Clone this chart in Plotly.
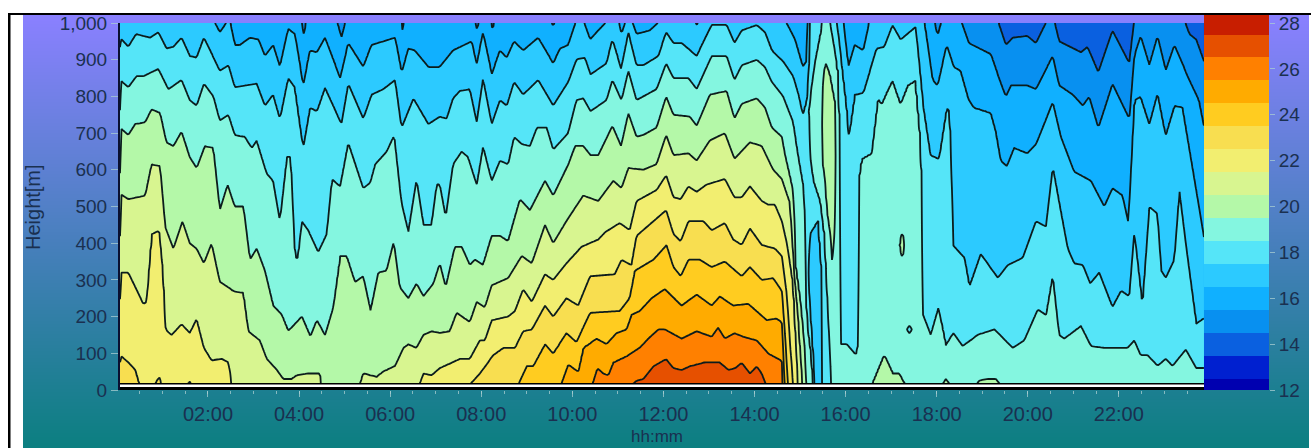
import numpy as np
import plotly.graph_objects as go

W, H = 1311, 448

# ---------- values ----------
# Each isotherm is (hour of day, height in metres); heights beyond 1000 m or near 0 m mean "leaves the plot".
ISO_14_5_A = [(19.34,1010),(19.52,940),(19.67,960),(19.99,965),(20.18,945),(20.43,1010)]
ISO_14_5_B = [(20.58,1010),(20.69,950),(21.17,920),(21.31,935),(21.55,865),(21.86,980),(22.23,890),(22.34,1010)]
ISO_14_5_C = [(23.44,1010),(23.55,970),(23.70,955),(23.87,895)]

ISO_15_5_A = [(4.05,1010),(4.11,965),(4.16,1010)]
ISO_15_5_B = [(4.83,1010),(4.93,960),(5.03,1010)]
ISO_15_5_C = [(6.24,1010),(6.27,980),(6.31,1010)]
ISO_15_5_D = [(7.86,1010),(7.91,980),(7.96,1010)]
ISO_15_5_E = [(8.21,1010),(8.25,975),(8.29,1010)]
ISO_15_5_F = [(9.53,1010),(9.58,990),(9.63,1010)]
ISO_15_5_G = [(17.95,1010),(18.02,965),(18.11,1010)]
ISO_15_5_H = [(18.53,1010),(18.71,945),(19.19,915),(19.34,860),(19.52,800),(19.63,830),(19.99,830),(20.18,820),(20.55,910),
              (20.69,830),(20.99,805),(21.21,775),(21.35,800),(21.55,715),(21.86,835),(22.23,740),(22.34,910),(22.48,965),
              (22.67,885),(22.85,965),(23.03,870),(23.22,940),(23.51,855),(23.76,790),(23.87,720)]

ISO_16_5_A = [(2.12,1010),(2.26,975),(2.45,1010)]
ISO_16_5_B = [(2.48,1010),(2.59,940),(2.70,940),(2.92,960),(3.11,955),(3.25,910),(3.43,940),(3.58,880),(3.76,985),(3.91,970),
              (4.09,830),(4.24,925),(4.39,920),(4.57,960),(4.90,850),(5.08,945),(5.41,880),(5.59,940),(6.11,960),(6.25,865),
              (6.40,930),(6.54,925),(6.84,880),(7.09,880),(7.38,925),(7.79,950),(7.90,890),(8.04,975),(8.23,860),(8.41,925),
              (8.56,905),(8.72,950),(8.92,925),(9.25,960),(9.58,890),(9.73,930),(9.91,940),(10.09,1010)]
ISO_16_5_C = [(10.24,1010),(10.39,955),(10.57,980),(10.79,1010)]
ISO_16_5_D = [(11.01,1010),(11.08,970),(11.18,1010)]
ISO_16_5_E = [(11.30,1010),(11.41,970),(11.70,980),(11.96,1010)]
ISO_16_5_F = [(12.66,1010),(12.73,995),(12.80,1010)]
ISO_16_5_G = [(14.41,1010),(14.71,1000),(14.89,955),(15.06,880),(15.14,895),(15.17,1010)]
ISO_16_5_H = [(15.95,1010),(16.06,880),(16.20,940),(16.39,925),(16.53,1010)]
ISO_16_5_I = [(17.73,1010),(17.91,845),(18.02,830),(18.22,940),(18.38,880),(18.53,870),(18.71,790),(18.82,770),(19.19,755),
              (19.30,705),(19.41,625),(19.54,610),(19.70,660),(19.99,645),(20.18,670),(20.55,785),(20.73,690),(21.02,595),
              (21.39,570),(21.68,500),(21.86,550),(22.08,530),(22.21,455),(22.34,790),(22.48,800),(22.67,725),(22.85,810),
              (23.03,695),(23.22,775),(23.40,770),(23.58,635),(23.76,500),(23.87,415)]

ISO_17_5_A = [(0.07,960),(0.25,935),(0.42,970),(0.73,960),(0.91,975),(1.09,930),(1.24,935),(1.42,960),(1.60,910),(1.75,905),
              (1.91,960),(2.26,870),(2.45,885),(2.59,825),(3.07,835),(3.25,775),(3.43,805),(3.58,740),(3.76,850),(3.91,825),
              (4.09,660),(4.24,770),(4.39,760),(4.57,825),(4.93,725),(5.08,835),(5.41,740),(5.59,805),(5.85,820),(6.11,845),
              (6.25,715),(6.51,795),(6.84,725),(7.09,745),(7.24,740),(7.38,795),(7.53,815),(7.75,820),(7.90,730),(8.04,850),
              (8.23,725),(8.41,790),(8.56,775),(8.72,840),(8.92,805),(9.25,845),(9.58,775),(9.91,840),(10.09,900),(10.28,905),
              (10.40,860),(10.75,890),(10.88,955),(11.07,875),(11.23,975),(11.41,885),(11.56,885),(11.89,910),(12.06,975),
              (12.22,945),(12.40,945),(12.73,910),(13.06,995),(13.39,995),(13.56,945),(13.72,980),(14.05,995),(14.23,975),
              (14.38,925),(14.63,895),(14.85,855),(14.98,800),(15.06,750),(15.14,790),(15.20,880),(15.22,1010)]
ISO_17_5_B = [(15.80,1010),(15.98,825),(16.06,730),(16.07,690),(16.20,805),(16.39,810),(16.68,930),(16.85,935),(17.03,995),
              (17.21,955),(17.54,990),(17.69,790),(17.87,640),(18.05,630),(18.22,770),(18.29,760),(18.34,525),(18.35,395),
              (18.61,360),(18.72,280),(18.97,370),(19.34,305),(19.56,340),(19.89,360),(20.18,460),(20.40,445),(20.55,610),
              (20.88,385),(21.02,345),(21.21,340),(21.37,290),(21.57,320),(21.86,225),(22.05,270),(22.23,255),(22.34,430),
              (22.52,225),(22.67,500),(22.85,480),(22.93,325),(23.03,305),(23.22,355),(23.33,545),(23.48,390),(23.70,180),(23.87,195)]
ISO_17_5_POOL_TOP = [(15.18,315),(15.22,425),(15.40,465),(15.47,335),(15.49,150),(15.50,5)]
ISO_17_5_POOL_LOW = [(15.18,315),(15.25,150),(15.33,5)]

ISO_18_5_A = [(0.07,845),(0.25,825),(0.43,855),(0.58,855),(0.91,875),(1.13,820),(1.42,845),(1.60,790),(1.75,775),(1.91,835),
              (2.12,800),(2.26,735),(2.45,750),(2.59,695),(2.81,690),(2.96,660),(3.07,680),(3.29,590),(3.43,570),(3.58,460),
              (3.73,635),(3.82,635),(3.91,360),(3.98,360),(4.06,460),(4.20,435),(4.42,375),(4.61,425),(4.72,575),(4.90,555),
              (5.08,675),(5.41,550),(5.56,565),(5.67,615),(5.92,650),(6.09,695),(6.25,510),(6.40,430),(6.58,575),(6.73,450),
              (6.91,450),(7.02,560),(7.09,560),(7.22,470),(7.38,615),(7.57,650),(7.71,635),(7.90,560),(8.04,665),(8.23,570),
              (8.41,625),(8.59,615),(8.72,690),(8.89,670),(9.07,665),(9.22,715),(9.44,715),(9.58,655),(9.91,700),(10.09,790),
              (10.24,795),(10.40,760),(10.75,790),(10.88,845),(11.08,790),(11.23,870),(11.41,790),(11.85,820),(12.06,890),
              (12.22,850),(12.55,850),(12.73,820),(13.06,910),(13.39,910),(13.56,845),(13.72,885),(14.05,900),(14.23,880),
              (14.38,840),(14.63,800),(14.85,730),(14.96,640),(15.07,560),(15.11,470),(15.12,290),(15.14,200),(15.25,95),(15.29,5)]
ISO_18_5_TONGUE_LOW = [(15.20,765),(15.21,650),(15.29,570),(15.43,515),(15.54,425),(15.62,200),(15.69,5)]
ISO_18_5_TONGUE_TOP = [(15.20,765),(15.25,820),(15.33,895),(15.50,1010)]
ISO_18_5_B = [(15.65,1010),(15.76,925),(15.85,860),(15.87,740),(15.88,495),(15.89,125),(16.02,125),(16.23,95),(16.28,125),
              (16.285,360),(16.29,575),(16.35,630),(16.57,645),(16.71,795),(16.79,780),(17.03,845),(17.21,780),(17.36,830),
              (17.54,845),(17.65,680),(17.69,500),(17.70,205),(17.87,150),(18.04,225),(18.20,120),(18.37,155),(18.57,120),
              (18.90,150),(19.27,165),(19.67,115),(19.92,135),(20.22,220),(20.40,205),(20.55,315),(20.69,150),(20.80,140),
              (21.17,175),(21.39,120),(21.68,115),(22.19,115),(22.34,135),(22.48,95),(22.63,95),(22.85,65),(23.03,85),
              (23.18,65),(23.47,110),(23.70,60),(23.87,60)]
ISO_18_5_RING_TOP = [(17.35,165),(17.40,175),(17.45,165)]
ISO_18_5_RING_LOW = [(17.35,165),(17.40,155),(17.45,165)]

ISO_19_5_A = [(0.07,715),(0.25,695),(0.40,725),(0.62,730),(0.76,765),(0.95,755),(1.09,675),(1.24,665),(1.42,705),(1.60,635),
              (1.75,605),(1.93,665),(2.12,660),(2.26,490),(2.43,560),(2.59,500),(2.78,500),(2.92,355),(3.07,385),(3.25,325),
              (3.43,230),(3.62,205),(3.76,160),(4.06,200),(4.25,145),(4.39,190),(4.57,150),(4.75,225),(4.90,365),(5.05,365),
              (5.23,295),(5.41,310),(5.57,215),(5.74,320),(5.92,325),(6.08,405),(6.21,280),(6.40,250),(6.58,290),(6.73,255),
              (6.95,290),(7.09,345),(7.22,280),(7.42,390),(7.57,390),(7.75,340),(7.86,355),(8.04,340),(8.23,420),(8.41,420),
              (8.59,405),(8.85,520),(9.07,490),(9.40,570),(9.58,530),(9.91,615),(10.06,665),(10.24,665),(10.40,640),(10.57,640),
              (10.88,720),(11.07,665),(11.23,755),(11.41,690),(11.56,695),(11.85,715),(12.06,800),(12.22,750),(12.58,745),
              (12.73,720),(13.02,805),(13.39,815),(13.56,740),(13.72,780),(14.05,795),(14.23,770),(14.38,715),(14.60,690),
              (14.67,640),(14.85,540),(14.89,425),(14.90,335),(15.00,245),(15.11,105),(15.14,5)]
ISO_19_5_LOOP_TOP = [(15.47,785),(15.55,895),(15.66,860),(15.77,785),(15.80,705)]
ISO_19_5_LOOP_LOW = [(15.47,785),(15.48,630),(15.55,570),(15.58,495),(15.69,400),(15.71,320),(15.77,495),(15.80,705)]
ISO_19_5_B = [(16.56,5),(16.85,95),(17.03,45),(17.18,45),(17.33,5)]
ISO_19_5_C = [(18.09,5),(18.20,30),(18.35,5)]
ISO_19_5_D = [(18.82,5),(18.93,25),(19.12,30),(19.30,30),(19.45,5)]
ISO_19_5_SLIT_TOP = [(17.20,395),(17.25,435),(17.29,395)]
ISO_19_5_SLIT_LOW = [(17.20,395),(17.25,355),(17.29,395)]

ISO_20_5_A = [(0.07,535),(0.25,520),(0.62,530),(0.76,615),(0.95,610),(1.06,445),(1.24,385),(1.44,460),(1.60,400),(1.75,385),
              (1.91,345),(2.08,400),(2.26,295),(2.56,270),(2.78,265),(2.89,160),(3.14,135),(3.29,85),(3.51,55),(3.65,30),
              (3.84,30),(3.95,40),(4.20,45),(4.46,45),(4.50,5)]
ISO_20_5_B = [(5.32,5),(5.41,45),(5.70,35),(5.85,50),(6.11,65),(6.29,115),(6.40,125),(6.58,115),(6.73,150),(6.91,160),(7.09,155),
              (7.31,160),(7.46,210),(7.75,185),(7.90,240),(8.08,225),(8.23,285),(8.59,305),(8.89,365),(9.11,345),(9.40,450),
              (9.58,400),(9.87,460),(10.24,530),(10.57,515),(10.90,570),(11.08,550),(11.23,605),(11.56,600),(11.85,615),
              (12.06,695),(12.22,640),(12.55,645),(12.73,625),(13.02,680),(13.35,700),(13.56,630),(13.90,675),(14.16,665),
              (14.41,600),(14.60,575),(14.78,510),(14.86,335),(14.96,200),(15.06,5)]

ISO_21_5_A = [(0.07,320),(0.25,320),(0.58,235),(0.65,240),(0.76,425),(0.93,435),(1.02,315),(1.07,165),(1.20,150),(1.42,180),
              (1.60,155),(1.75,195),(1.91,115),(2.08,80),(2.30,85),(2.45,75),(2.53,5)]
ISO_21_5_B = [(6.62,5),(6.73,45),(6.91,40),(7.09,60),(7.53,85),(7.75,85),(7.97,135),(8.08,135),(8.23,190),(8.59,200),(8.74,215),
              (8.92,275),(9.11,240),(9.40,315),(9.58,300),(9.87,345),(10.20,390),(10.57,410),(10.72,430),(11.04,455),(11.26,435),
              (11.41,515),(11.85,545),(12.06,585),(12.22,525),(12.38,520),(12.55,555),(12.73,540),(12.95,560),(13.35,575),
              (13.56,525),(13.72,525),(13.90,555),(14.16,515),(14.30,505),(14.45,505),(14.60,460),(14.71,400),(14.85,290),(14.96,5)]

ISO_22_5_A = [(0.07,95),(0.25,75),(0.40,55),(0.51,5)]
ISO_22_5_B = [(0.80,5),(0.93,35),(0.98,5)]
ISO_22_5_C = [(1.53,5),(1.59,25),(1.66,5)]
ISO_22_5_D = [(7.68,5),(7.97,45),(8.26,95),(8.48,115),(8.74,115),(8.92,160),(9.11,165),(9.40,230),(9.58,200),(9.87,250),(10.13,230),
              (10.39,310),(10.93,315),(11.08,355),(11.30,340),(11.41,420),(11.78,460),(12.06,490),(12.22,425),(12.38,405),
              (12.55,460),(12.88,460),(13.06,435),(13.35,455),(13.53,410),(13.72,395),(13.90,440),(14.16,395),(14.45,385),
              (14.60,365),(14.71,260),(14.85,5)]

ISO_23_5 = [(8.78,5),(9.00,65),(9.14,65),(9.40,125),(9.58,100),(9.87,155),(10.09,130),(10.39,210),(11.04,215),(11.26,250),
            (11.37,325),(11.78,355),(12.07,395),(12.22,335),(12.38,310),(12.55,355),(12.80,355),(13.06,335),(13.35,350),
            (13.72,310),(13.90,335),(14.16,300),(14.41,305),(14.60,270),(14.67,150),(14.74,5)]
ISO_24_5 = [(9.73,5),(9.91,70),(10.13,50),(10.24,115),(10.53,140),(10.75,125),(10.97,155),(11.19,165),(11.30,205),(11.48,215),
            (11.74,250),(12.03,275),(12.40,230),(12.73,260),(13.06,230),(13.24,255),(13.53,230),(13.86,235),(14.27,190),
            (14.48,195),(14.60,185),(14.67,5)]
ISO_25_5 = [(10.42,5),(10.55,60),(10.68,45),(10.79,40),(10.90,75),(11.23,95),(11.48,115),(11.67,140),(11.89,165),(12.03,165),
            (12.40,140),(12.73,160),(12.95,150),(13.06,145),(13.20,170),(13.35,140),(13.56,155),(13.75,145),(14.05,135),
            (14.30,100),(14.60,80),(14.63,5)]
ISO_26_5 = [(11.23,5),(11.41,25),(11.56,30),(11.78,65),(12.06,85),(12.22,60),(12.40,55),(12.58,65),(12.88,75),(13.24,75),
            (13.43,55),(13.58,60),(13.72,75),(13.90,45),(14.05,65),(14.16,45),(14.28,5)]

CURVES = [
    (14.5, ISO_14_5_A), (14.5, ISO_14_5_B), (14.5, ISO_14_5_C),
    (15.5, ISO_15_5_A), (15.5, ISO_15_5_B), (15.5, ISO_15_5_C), (15.5, ISO_15_5_D), (15.5, ISO_15_5_E),
    (15.5, ISO_15_5_F), (15.5, ISO_15_5_G), (15.5, ISO_15_5_H),
    (16.5, ISO_16_5_A), (16.5, ISO_16_5_B), (16.5, ISO_16_5_C), (16.5, ISO_16_5_D), (16.5, ISO_16_5_E),
    (16.5, ISO_16_5_F), (16.5, ISO_16_5_G), (16.5, ISO_16_5_H), (16.5, ISO_16_5_I),
    (17.5, ISO_17_5_A), (17.5, ISO_17_5_B), (17.5, ISO_17_5_POOL_TOP), (17.5, ISO_17_5_POOL_LOW),
    (18.5, ISO_18_5_A), (18.5, ISO_18_5_TONGUE_LOW), (18.5, ISO_18_5_TONGUE_TOP), (18.5, ISO_18_5_B),
    (18.5, ISO_18_5_RING_TOP), (18.5, ISO_18_5_RING_LOW),
    (19.5, ISO_19_5_A), (19.5, ISO_19_5_LOOP_TOP), (19.5, ISO_19_5_LOOP_LOW), (19.5, ISO_19_5_B), (19.5, ISO_19_5_C),
    (19.5, ISO_19_5_D), (19.5, ISO_19_5_SLIT_TOP), (19.5, ISO_19_5_SLIT_LOW),
    (20.5, ISO_20_5_A), (20.5, ISO_20_5_B), (21.5, ISO_21_5_A), (21.5, ISO_21_5_B),
    (22.5, ISO_22_5_A), (22.5, ISO_22_5_B), (22.5, ISO_22_5_C), (22.5, ISO_22_5_D),
    (23.5, ISO_23_5), (24.5, ISO_24_5), (25.5, ISO_25_5), (26.5, ISO_26_5),
]

# Temperature band at the ground and at the top of the plot: (from this hour on, band)
SURFACE_BAND = [(0,23),(0.51,22),(0.80,23),(0.98,22),(1.53,23),(1.66,22),(2.53,21),(4.50,20),(5.32,21),(6.62,22),(7.68,23),
                (8.78,24),(9.73,25),(10.42,26),(11.23,27),(14.28,26),(14.63,25),(14.67,24),(14.74,23),(14.85,22),(14.96,21),
                (15.06,20),(15.14,19),(15.29,18),(15.33,17),(15.50,18),(15.69,19),(16.56,20),(17.33,19),(18.09,20),(18.35,19),
                (18.82,20),(19.45,19)]
TOP_BAND = [(0,17),(2.12,16),(2.45,17),(2.48,16),(4.05,15),(4.16,16),(4.83,15),(5.03,16),(6.24,15),(6.31,16),(7.86,15),(7.96,16),
            (8.21,15),(8.29,16),(9.53,15),(9.63,16),(10.09,17),(10.24,16),(10.79,17),(11.01,16),(11.18,17),(11.30,16),(11.96,17),
            (12.66,16),(12.80,17),(14.41,16),(15.17,17),(15.22,18),(15.50,19),(15.65,18),(15.80,17),(15.95,16),(16.53,17),
            (17.73,16),(17.95,15),(18.11,16),(18.53,15),(19.34,14),(20.43,15),(20.58,14),(22.34,15),(23.44,14)]

BAND_VALUES = [12,13,14,15,16,17,18,19,20,21,22,23,24,25,26,27,28]
BAND_COLORS = ["#0000b0","#0020d0","#0a60e0","#0890f0","#10b0ff","#2ccaff","#55e5f8","#84f6e0","#b4f8a8","#d8f590",
               "#f2ee70","#f8de50","#ffcc20","#ffab00","#ff8000","#e65000","#c81e00"]
TIME_TICK_HOURS = [2,4,6,8,10,12,14,16,18,20,22]
TIME_TICK_LABELS = ["02:00","04:00","06:00","08:00","10:00","12:00","14:00","16:00","18:00","20:00","22:00"]
BAR_TICKS = [12,14,16,18,20,22,24,26,28]
HOUR_FIRST, HOUR_LAST = 0.068, 23.87
BASE_BLACK_M, BASE_WHITE_M = 8, 17

# ---------- temperature grid rebuilt from the isotherms ----------
hours = np.arange(HOUR_FIRST, HOUR_LAST + 0.001, 1 / 30)
heights = np.arange(0, 1001, 5.0)

def band_at(table, t):
    v = table[0][1]
    for start, band in table:
        if t >= start:
            v = band
    return v

curve_heights = []
for level, pts in CURVES:
    a = np.array(pts, dtype=float)
    curve_heights.append((level, np.interp(hours, a[:, 0], a[:, 1], left=np.nan, right=np.nan)))

temps = np.zeros((len(heights), len(hours)))
for c, t in enumerate(hours):
    anchors = sorted((float(v[c]), lev) for lev, v in curve_heights if not np.isnan(v[c]))
    hs, ts = [-10.0], [float(band_at(SURFACE_BAND, t))]
    for i, (h, lev) in enumerate(anchors):
        if i > 0 and anchors[i - 1][1] == lev:        # same isotherm twice: a warm or cold pocket lies between
            going_up = ts[-2] < lev if len(ts) >= 2 else True
            hs.append((hs[-1] + h) / 2)
            ts.append(lev + (0.5 if going_up else -0.5))
        hs.append(h)
        ts.append(lev)
    hs.append(1020.0)
    ts.append(float(band_at(TOP_BAND, t)))
    hs = np.array(hs) + np.arange(len(hs)) * 1e-6
    temps[:, c] = np.interp(heights, hs, ts)

# ---------- figure ----------
def px_x(p): return p / W
def py_y(p): return 1 - p / H

zmin, zmax = BAND_VALUES[0] - 0.5, BAND_VALUES[-1] + 0.5
n = len(BAND_VALUES)
step_scale = []
for i, col in enumerate(BAND_COLORS):
    step_scale += [[i / n, col], [(i + 1) / n, col]]

TEXT = "#1a3050"
PALE = "rgba(170,205,210,0.75)"
fig = go.Figure()

# page gradient behind everything
fig.add_trace(go.Heatmap(z=[[0, 0], [1, 1]], x=[0, 1], y=[0, 1], zsmooth="best", showscale=False, hoverinfo="skip",
                         colorscale=[[0, "#0b7f80"], [1, "#8a80ff"]], xaxis="x", yaxis="y"))
fig.add_trace(go.Contour(x=hours, y=heights, z=temps, xaxis="x2", yaxis="y2", showscale=False,
                         colorscale=step_scale, zmin=zmin, zmax=zmax, zauto=False,
                         contours=dict(coloring="fill", start=12.5, end=27.5, size=1, showlabels=False),
                         line=dict(color="#0c1c1c", width=1.8, smoothing=0), hoverinfo="skip"))
fig.add_trace(go.Heatmap(z=[[v] for v in BAND_VALUES], y=BAND_VALUES, x=[0], xaxis="x3", yaxis="y3", showscale=False,
                         colorscale=step_scale, zmin=zmin, zmax=zmax, hoverinfo="skip"))

fig.update_layout(
    width=W, height=H, autosize=False, margin=dict(l=0, r=0, t=0, b=0, pad=0),
    paper_bgcolor="white", plot_bgcolor="rgba(0,0,0,0)", showlegend=False,
    font=dict(family="Liberation Sans, Arial, sans-serif", size=19, color=TEXT),
    xaxis=dict(domain=[px_x(23), px_x(1309)], range=[0, 1], visible=False, fixedrange=True),
    yaxis=dict(domain=[0, py_y(15)], range=[0, 1], visible=False, fixedrange=True),
    xaxis2=dict(domain=[px_x(120), px_x(1204)], range=[HOUR_FIRST, HOUR_LAST], anchor="y2",
                tickmode="array", tickvals=TIME_TICK_HOURS, ticktext=TIME_TICK_LABELS,
                tickfont=dict(size=20, color=TEXT),
                ticks="outside", ticklen=6, tickcolor=PALE, tickwidth=1, showgrid=False, zeroline=False, showline=False,
                minor=dict(ticks="outside", ticklen=3, tickcolor=PALE, dtick=0.5, tick0=0, showgrid=False),
                automargin=False),
    yaxis2=dict(domain=[py_y(390), py_y(23)], range=[0, 1000], anchor="x2", dtick=100, tick0=0, tickformat=",d",
                ticks="outside", ticklen=7, tickcolor=PALE, tickwidth=1, showgrid=False, zeroline=False,
                showline=True, linecolor="#0a1030", linewidth=2, automargin=False),
    xaxis3=dict(domain=[px_x(1204), px_x(1269)], range=[-0.5, 0.5], visible=False, fixedrange=True, anchor="y3"),
    yaxis3=dict(domain=[py_y(390), py_y(15)], range=[12, 28.35], anchor="x3", side="right", tickmode="array",
                tickvals=BAR_TICKS, ticks="outside", ticklen=5, tickcolor=PALE, showgrid=False, zeroline=False,
                showline=False, fixedrange=True, automargin=False),
    annotations=[
        dict(text="hh:mm", xref="paper", yref="paper", x=px_x(657), y=py_y(436.5), xanchor="center", yanchor="middle",
             showarrow=False, font=dict(size=17, color=TEXT)),
        dict(text="Height[m]", xref="paper", yref="paper", x=px_x(33), y=py_y(207), xanchor="center", yanchor="middle",
             showarrow=False, textangle=-90, font=dict(size=20, color=TEXT)),
    ],
    shapes=[
        dict(type="rect", xref="x2", yref="y2", x0=HOUR_FIRST, x1=HOUR_LAST, y0=0, y1=BASE_WHITE_M,
             fillcolor="white", line=dict(width=0)),
        dict(type="line", xref="x2", yref="y2", x0=HOUR_FIRST, x1=HOUR_LAST, y0=BASE_WHITE_M, y1=BASE_WHITE_M,
             line=dict(color="black", width=1.5)),
        dict(type="rect", xref="x2", yref="y2", x0=HOUR_FIRST, x1=HOUR_LAST, y0=0, y1=BASE_BLACK_M,
             fillcolor="black", line=dict(width=0)),
        dict(type="rect", xref="paper", yref="paper", x0=px_x(8), x1=px_x(10.5), y0=0, y1=py_y(13),
             fillcolor="black", line=dict(width=0)),
        dict(type="rect", xref="paper", yref="paper", x0=px_x(8), x1=1, y0=py_y(15), y1=py_y(13),
             fillcolor="black", line=dict(width=0)),
    ],
)

fig.write_html("out.html", config=dict(displayModeBar=False),
               post_script="document.body.style.margin='0';document.documentElement.style.overflow='hidden';")
